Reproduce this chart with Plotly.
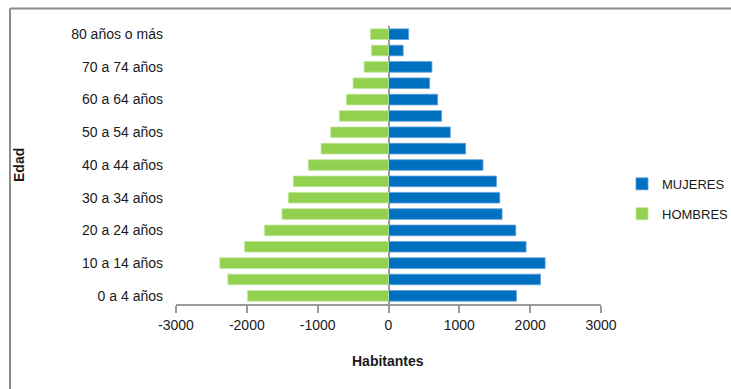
import plotly.graph_objects as go

categories = ["0 a 4 años", "5 a 9 años", "10 a 14 años", "15 a 19 años", "20 a 24 años",
              "25 a 29 años", "30 a 34 años", "35 a 39 años", "40 a 44 años", "45 a 49 años",
              "50 a 54 años", "55 a 59 años", "60 a 64 años", "65 a 69 años", "70 a 74 años",
              "75 a 79 años", "80 años o más"]
hombres = [1990, 2268, 2381, 2032, 1749, 1504, 1414, 1344, 1132, 952, 816, 693, 594, 500, 344, 240, 255]
mujeres = [1806, 2145, 2211, 1942, 1796, 1603, 1570, 1523, 1334, 1089, 872, 750, 693, 580, 613, 207, 283]
x_ticks = [-3000, -2000, -1000, 0, 1000, 2000, 3000]
y_tick_labels = categories[::2]

W, H = 731, 389
ML, MR, MT, MB = 176, 130, 25.5, 84.5
pw = W - ML - MR
ph = H - MT - MB

def px_x(p):
    return (p - ML) / pw

def px_y(p):
    return (H - MB - p) / ph

fig = go.Figure()
fig.add_trace(go.Bar(
    y=categories, x=mujeres, orientation="h", name="MUJERES",
    marker=dict(color="#0070C0", line=dict(width=0.8, color="#5aa0dc")),
    legendgroup="m",
))
fig.add_trace(go.Bar(
    y=categories, x=[-v for v in hombres], orientation="h", name="HOMBRES",
    marker=dict(color="#92D050", line=dict(width=0.8, color="#c0e69a")),
    legendgroup="h",
))

font = "Liberation Sans, Arial, sans-serif"
fig.update_layout(
    width=W, height=H,
    margin=dict(l=ML, r=MR, t=MT, b=MB, pad=0, autoexpand=False),
    paper_bgcolor="white", plot_bgcolor="white",
    barmode="relative", bargap=0.35,
    font=dict(family=font, size=14, color="#1a1a1a"),
    showlegend=True,
    legend=dict(
        x=px_x(622), xanchor="left",
        y=px_y(199), yanchor="middle",
        traceorder="grouped", tracegroupgap=10,
        font=dict(size=13, family=font, color="#1a1a1a"),
        itemwidth=30,
    ),
    xaxis=dict(
        range=[-3000, 3000], tickvals=x_ticks, ticktext=[str(v) for v in x_ticks],
        showgrid=False, zeroline=True, zerolinecolor="#9a9a9a", zerolinewidth=1.5,
        showline=True, linecolor="#9a9a9a", linewidth=1.5,
        ticks="outside", ticklen=7, tickcolor="#9a9a9a", tickwidth=1.5,
        tickfont=dict(size=14), fixedrange=True,
    ),
    yaxis=dict(
        categoryorder="array", categoryarray=categories,
        tickvals=y_tick_labels, ticktext=y_tick_labels,
        showgrid=False, zeroline=False, showline=False, ticks="",
        ticklabelstandoff=12,
        tickfont=dict(size=14),
    ),
    annotations=[
        dict(text="<b>Habitantes</b>", xref="paper", yref="paper",
             x=px_x(388), y=px_y(362), xanchor="center", yanchor="middle",
             showarrow=False, font=dict(size=14)),
        dict(text="<b>Edad</b>", xref="paper", yref="paper", textangle=-90,
             x=px_x(19), y=px_y(165), xanchor="center", yanchor="middle",
             showarrow=False, font=dict(size=14)),
    ],
    shapes=[
        dict(type="line", xref="paper", yref="paper",
             x0=px_x(10), x1=px_x(W + 5),
             y0=px_y(8), y1=px_y(8),
             line=dict(color="#8c8c8c", width=2)),
        dict(type="line", xref="paper", yref="paper",
             x0=px_x(10), x1=px_x(10),
             y0=px_y(8), y1=px_y(H + 5),
             line=dict(color="#8c8c8c", width=2)),
    ],
)

fig.write_html("out.html")
